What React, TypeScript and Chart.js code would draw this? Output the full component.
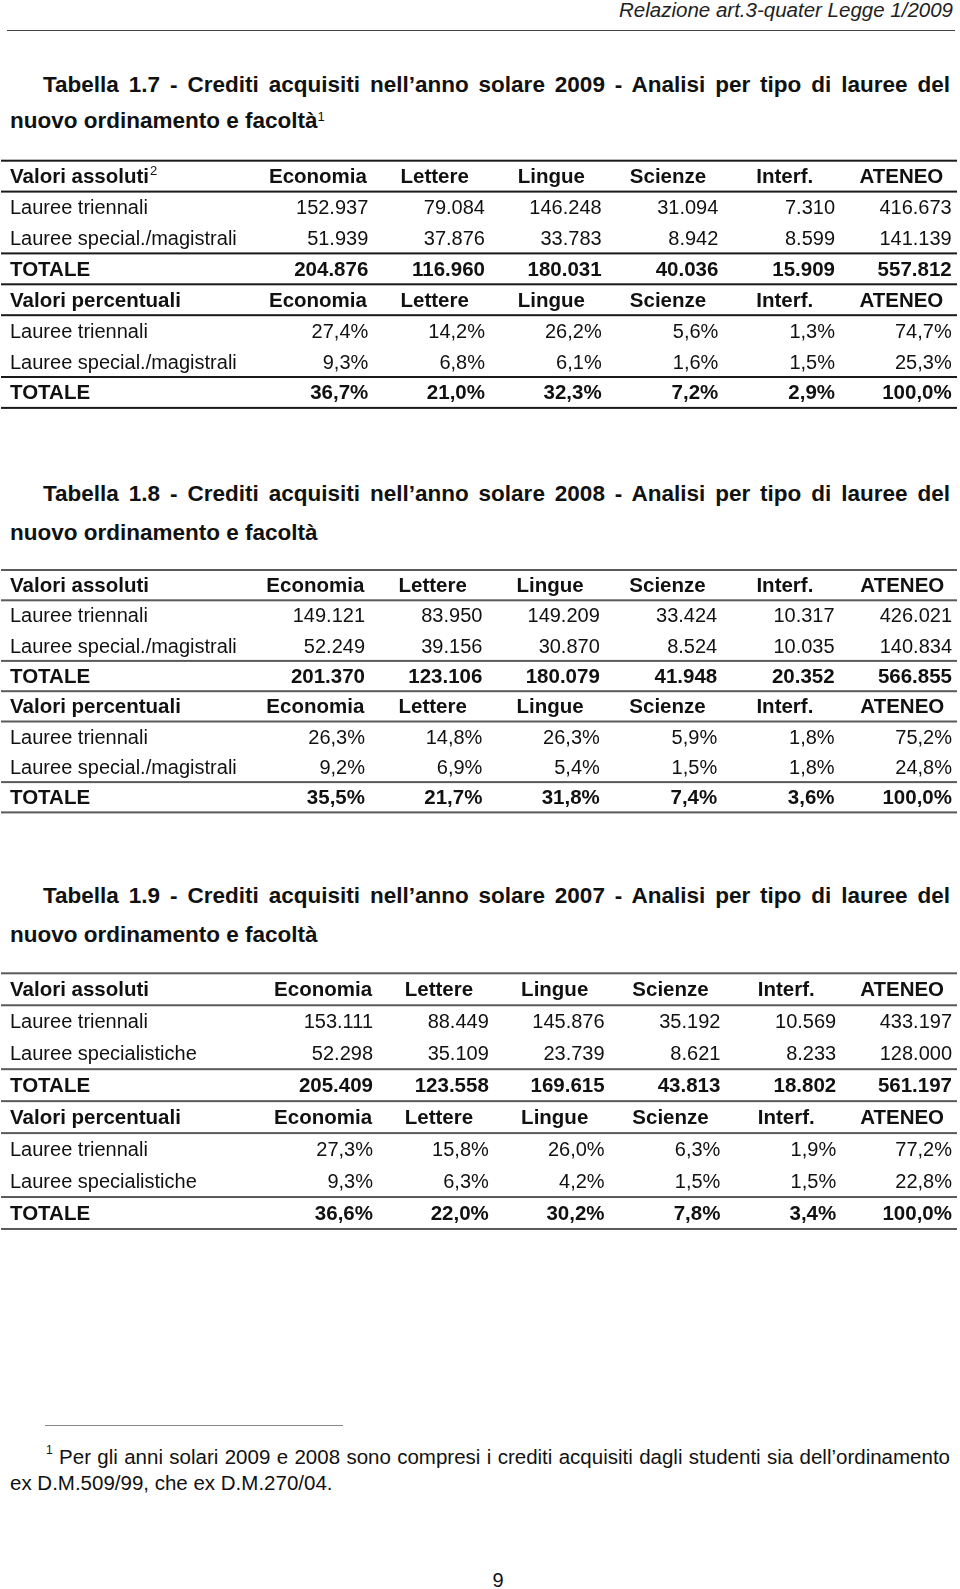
import React, { useEffect, useRef } from "react";
import { Chart, registerables } from "chart.js";

Chart.register(...registerables);

// ---------- data ----------
const faculties = ["Economia", "Lettere", "Lingue", "Scienze", "Interf.", "ATENEO"];
const rowKeys = ["absHead", "absTri", "absSpec", "absTot", "pctHead", "pctTri", "pctSpec", "pctTot"];

const labels0809 = [
  "Valori assoluti", "Lauree triennali", "Lauree special./magistrali", "TOTALE",
  "Valori percentuali", "Lauree triennali", "Lauree special./magistrali", "TOTALE",
];
const labels07 = [
  "Valori assoluti", "Lauree triennali", "Lauree specialistiche", "TOTALE",
  "Valori percentuali", "Lauree triennali", "Lauree specialistiche", "TOTALE",
];

// Tabella 1.7 - anno 2009
const abs2009Triennali = [152937, 79084, 146248, 31094, 7310, 416673];
const abs2009Special = [51939, 37876, 33783, 8942, 8599, 141139];
const abs2009Totale = [204876, 116960, 180031, 40036, 15909, 557812];
const pct2009Triennali = [27.4, 14.2, 26.2, 5.6, 1.3, 74.7];
const pct2009Special = [9.3, 6.8, 6.1, 1.6, 1.5, 25.3];
const pct2009Totale = [36.7, 21.0, 32.3, 7.2, 2.9, 100.0];

// Tabella 1.8 - anno 2008
const abs2008Triennali = [149121, 83950, 149209, 33424, 10317, 426021];
const abs2008Special = [52249, 39156, 30870, 8524, 10035, 140834];
const abs2008Totale = [201370, 123106, 180079, 41948, 20352, 566855];
const pct2008Triennali = [26.3, 14.8, 26.3, 5.9, 1.8, 75.2];
const pct2008Special = [9.2, 6.9, 5.4, 1.5, 1.8, 24.8];
const pct2008Totale = [35.5, 21.7, 31.8, 7.4, 3.6, 100.0];

// Tabella 1.9 - anno 2007
const abs2007Triennali = [153111, 88449, 145876, 35192, 10569, 433197];
const abs2007Special = [52298, 35109, 23739, 8621, 8233, 128000];
const abs2007Totale = [205409, 123558, 169615, 43813, 18802, 561197];
const pct2007Triennali = [27.3, 15.8, 26.0, 6.3, 1.9, 77.2];
const pct2007Special = [9.3, 6.3, 4.2, 1.5, 1.5, 22.8];
const pct2007Totale = [36.6, 22.0, 30.2, 7.8, 3.4, 100.0];

// ---------- formatting ----------
const fmtAbs = (n: number) => String(n).replace(/\B(?=(\d{3})+(?!\d))/g, ".");
const fmtPct = (n: number) => n.toFixed(1).replace(".", ",") + "%";

function buildRows(
  aT: number[], aS: number[], aTot: number[],
  pT: number[], pS: number[], pTot: number[]
): (string[] | null)[] {
  return [
    null, aT.map(fmtAbs), aS.map(fmtAbs), aTot.map(fmtAbs),
    null, pT.map(fmtPct), pS.map(fmtPct), pTot.map(fmtPct),
  ];
}

const rows2009 = buildRows(abs2009Triennali, abs2009Special, abs2009Totale, pct2009Triennali, pct2009Special, pct2009Totale);
const rows2008 = buildRows(abs2008Triennali, abs2008Special, abs2008Totale, pct2008Triennali, pct2008Special, pct2008Totale);
const rows2007 = buildRows(abs2007Triennali, abs2007Special, abs2007Totale, pct2007Triennali, pct2007Special, pct2007Totale);

// ---------- layout / style ----------
const FONT = '"Liberation Sans", Arial, Helvetica, sans-serif';
const headerRows = [0, 4];
const boldRows = [0, 3, 4, 7];
const ruleBoundaries = [0, 1, 3, 4, 5, 7, 8];

type Layout = {
  top: number; rowH: number; firstRight: number; lastRight: number;
  ruleColor: string; ruleWidth: number; headShift: number;
};
const layout17: Layout = { top: 160.7, rowH: 30.9, firstRight: 368.3, lastRight: 951.7, ruleColor: "#1a1a1a", ruleWidth: 2, headShift: 8 };
const layout18: Layout = { top: 570, rowH: 30.3, firstRight: 365, lastRight: 952, ruleColor: "#5a5a5a", ruleWidth: 2, headShift: 9 };
const layout19: Layout = { top: 973.3, rowH: 31.96, firstRight: 373, lastRight: 952, ruleColor: "#5a5a5a", ruleWidth: 2, headShift: 8 };

function TableChart({ rows, labels, sup, layout }: {
  rows: (string[] | null)[]; labels: string[]; sup?: string; layout: Layout;
}) {
  const ref = useRef<HTMLCanvasElement>(null);
  const canvasTop = Math.floor(layout.top) - 4;
  const padTop = layout.top - canvasTop;
  const height = Math.ceil(padTop + layout.rowH * rowKeys.length + 4);

  useEffect(() => {
    const canvas = ref.current!;
    const band = (layout.lastRight - layout.firstRight) / (faculties.length - 1);
    const datasets = rows.map((vals, r) => ({
      label: labels[r],
      data: vals ? vals.map((v, c) => ({ x: faculties[c], y: rowKeys[r], text: v })) : [],
      pointRadius: 0,
      pointHoverRadius: 0,
      showLine: false,
    }));

    const plugin = {
      id: "tableText",
      afterDatasetsDraw(chart: any) {
        const { ctx } = chart;
        const xs = chart.scales.x;
        const ys = chart.scales.y;
        const bx = xs.width / faculties.length;
        const by = ys.height / rowKeys.length;
        ctx.save();
        // horizontal rules
        ctx.fillStyle = layout.ruleColor;
        for (const b of ruleBoundaries) {
          const yy = b < rowKeys.length
            ? ys.getPixelForValue(b) - by / 2
            : ys.getPixelForValue(rowKeys.length - 1) + by / 2;
          ctx.fillRect(1, yy - layout.ruleWidth / 2, 956, layout.ruleWidth);
        }
        ctx.fillStyle = "#111";
        ctx.textBaseline = "alphabetic";
        // row labels
        labels.forEach((lab, r) => {
          const bold = boldRows.includes(r);
          ctx.font = `${bold ? "bold 20.5px" : "20px"} ${FONT}`;
          ctx.textAlign = "left";
          const yy = ys.getPixelForValue(r) + 7;
          ctx.fillText(lab, 10, yy);
          if (r === 0 && sup) {
            const w = ctx.measureText(lab).width;
            ctx.font = `13px ${FONT}`;
            ctx.fillText(sup, 10 + w + 1, yy - 8);
          }
        });
        // column headers
        for (const r of headerRows) {
          ctx.font = `bold 20.5px ${FONT}`;
          ctx.textAlign = "center";
          const yy = ys.getPixelForValue(r) + 7;
          faculties.forEach((f, c) => {
            ctx.fillText(f, xs.getPixelForValue(c) + layout.headShift, yy);
          });
        }
        // cells
        chart.data.datasets.forEach((ds: any, i: number) => {
          const meta = chart.getDatasetMeta(i);
          const bold = boldRows.includes(i);
          ctx.font = `${bold ? "bold 20.5px" : "20px"} ${FONT}`;
          ctx.textAlign = "right";
          meta.data.forEach((el: any, j: number) => {
            ctx.fillText(ds.data[j].text, el.x + bx / 2, el.y + 7);
          });
        });
        ctx.restore();
      },
    };

    const chart = new Chart(canvas, {
      type: "scatter",
      data: { datasets } as any,
      options: {
        animation: false,
        responsive: false,
        maintainAspectRatio: false,
        devicePixelRatio: 1,
        events: [],
        layout: {
          padding: {
            left: layout.firstRight - band,
            right: 960 - layout.lastRight,
            top: padTop,
            bottom: height - padTop - layout.rowH * rowKeys.length,
          },
        },
        plugins: {
          legend: { display: false },
          tooltip: { enabled: false },
          title: { display: false },
        },
        scales: {
          x: { type: "category", labels: faculties, offset: true, display: false },
          y: { type: "category", labels: rowKeys, offset: true, display: false },
        },
      } as any,
      plugins: [plugin],
    });
    return () => chart.destroy();
  }, []);

  return (
    <canvas
      ref={ref}
      width={960}
      height={height}
      style={{ position: "absolute", left: 0, top: canvasTop, width: 960, height }}
    />
  );
}

const abs = (s: React.CSSProperties): React.CSSProperties => ({ position: "absolute", ...s });

function Title({ num, year, top1, top2, sup }: { num: string; year: string; top1: number; top2: number; sup?: string }) {
  const base: React.CSSProperties = { fontSize: 22.5, fontWeight: "bold", lineHeight: "22.5px" };
  return (
    <>
      <div style={abs({ ...base, left: 43, top: top1, width: 907, textAlign: "justify", textAlignLast: "justify" })}>
        {`Tabella ${num} - Crediti acquisiti nell\u2019anno solare ${year} - Analisi per tipo di lauree del`}
      </div>
      <div style={abs({ ...base, left: 10, top: top2, whiteSpace: "nowrap" })}>
        nuovo ordinamento e facoltà
        {sup ? (
          <span style={{ fontSize: 13, fontWeight: "normal", position: "relative", top: -7 }}>{sup}</span>
        ) : null}
      </div>
    </>
  );
}

export default function App() {
  return (
    <div
      style={{
        position: "absolute", left: 0, top: 0, width: 960, height: 1589,
        overflow: "hidden", background: "#fff", color: "#111", fontFamily: FONT,
      }}
    >
      <div style={abs({ right: 7, top: 0, fontSize: 20.5, lineHeight: "20.5px", fontStyle: "italic", whiteSpace: "nowrap", color: "#222" })}>
        Relazione art.3-quater Legge 1/2009
      </div>
      <div style={abs({ left: 7, top: 30, width: 948, height: 1, background: "#444" })} />

      <Title num="1.7" year="2009" top1={73.7} top2={110.3} sup="1" />
      <TableChart rows={rows2009} labels={labels0809} sup="2" layout={layout17} />

      <Title num="1.8" year="2008" top1={483} top2={521.7} />
      <TableChart rows={rows2008} labels={labels0809} layout={layout18} />

      <Title num="1.9" year="2007" top1={885.3} top2={924.3} />
      <TableChart rows={rows2007} labels={labels07} layout={layout19} />

      <div style={abs({ left: 45, top: 1425, width: 298, height: 1, background: "#888" })} />
      <div style={abs({ left: 46, top: 1446.6, width: 904, fontSize: 20.5, lineHeight: "20.5px", textAlign: "justify", textAlignLast: "justify" })}>
        <span style={{ fontSize: 12, position: "relative", top: -10 }}>1</span>
        {" Per gli anni solari 2009 e 2008 sono compresi i crediti acquisiti dagli studenti sia dell\u2019ordinamento"}
      </div>
      <div style={abs({ left: 10, top: 1472.6, fontSize: 20.5, lineHeight: "20.5px", whiteSpace: "nowrap" })}>
        ex D.M.509/99, che ex D.M.270/04.
      </div>
      <div style={abs({ left: 478, top: 1570, width: 40, textAlign: "center", fontSize: 20, lineHeight: "20px" })}>9</div>
    </div>
  );
}
